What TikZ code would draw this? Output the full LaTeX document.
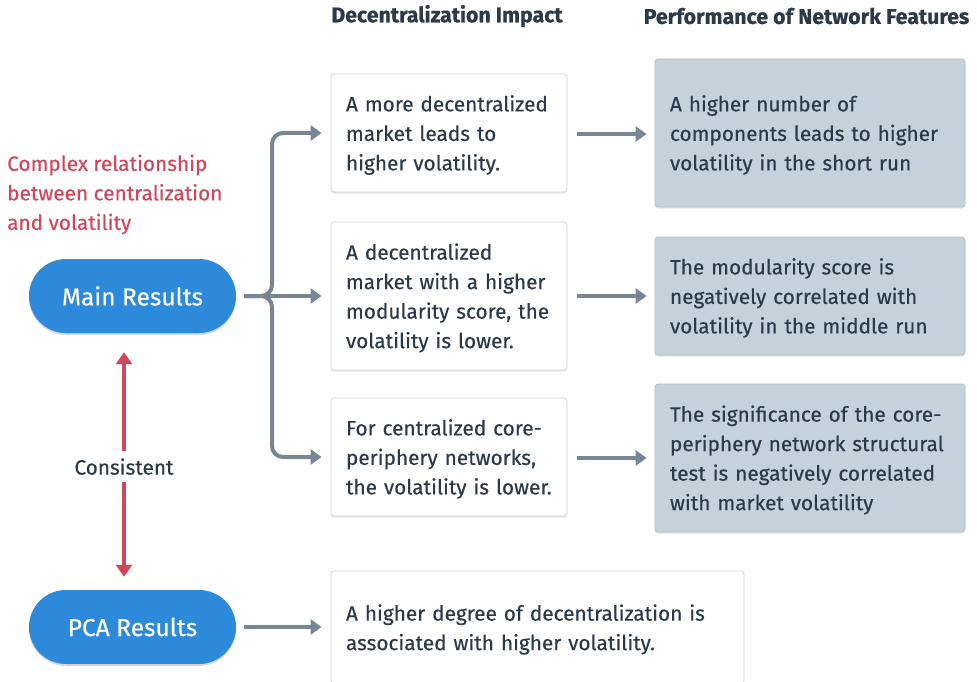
\documentclass[tikz,border=0pt]{standalone}
\usepackage{fontspec}
\setmainfont{Fira Sans}[FakeBold=0.6]
\newfontfamily\medfont{Fira Sans}[FakeBold=0.35]
\usetikzlibrary{arrows.meta,shadows,calc}
\definecolor{pillblue}{HTML}{2D89D9}
\definecolor{relred}{HTML}{D0475C}
\definecolor{conngray}{HTML}{778695}
\definecolor{txtdark}{HTML}{2B3A4A}
\definecolor{boxgray}{HTML}{C5D1DB}
\definecolor{boxgrayline}{HTML}{B3BFCA}
\definecolor{boxline}{HTML}{D3D6DA}
\tikzset{
  bodyfont/.style={font={\medfont\fontsize{20.8}{29.5}\selectfont}},
  boxtext/.style={bodyfont, text=txtdark, align=left, inner sep=0pt},
  whitebox/.style={draw=boxline, line width=0.8pt, fill=white, rounded corners=3pt, inner sep=0pt,
    drop shadow={shadow xshift=0pt, shadow yshift=-1.5pt, opacity=0.10, fill=black}},
  graybox/.style={draw=boxgrayline, line width=0.8pt, fill=boxgray, rounded corners=3pt, inner sep=0pt,
    drop shadow={shadow xshift=0pt, shadow yshift=-1.5pt, opacity=0.10, fill=black}},
  pill/.style={fill=pillblue, rounded corners=37pt, minimum width=207pt, minimum height=74pt,
    text=white, font={\medfont\fontsize{24.5}{28}\selectfont}, inner sep=0pt,
    drop shadow={shadow xshift=0pt, shadow yshift=-2pt, opacity=0.15, fill=black}},
  header/.style={font={\fontsize{21.3}{24}\selectfont\bfseries}, text=txtdark, inner sep=0pt},
  conn/.style={draw=conngray, line width=4pt, -{Triangle[length=11pt,width=15pt]}},
  relarrow/.style={draw=relred, line width=4pt, {Triangle[length=12pt,width=16pt]}-{Triangle[length=12pt,width=16pt]}},
}
\begin{document}
\begin{tikzpicture}[x=1pt,y=-1pt]
\clip (0,0) rectangle (977,682);
\fill[white] (0,0) rectangle (977,682);

% headers
\node[header] (h1) at (447,16) {Decentralization Impact};
\node[header] (h2) at (806.5,16) {Performance of Network Features};

% red note
\node[anchor=west, inner sep=0pt, align=left, text=relred, bodyfont] (note) at (7,194.5)
  {Complex relationship\\between centralization\\and volatility};

% pills
\node[pill] (main) at (132.5,296) {Main Results};
\node[pill] (pca) at (132.5,627) {PCA Results};

% middle column boxes
\node[whitebox, minimum width=236pt, minimum height=118pt] (b1) at (449,133) {};
\node[boxtext, text width=206pt] (t1) at ([yshift=-2pt]b1.center)
  {A more decentralized\\market leads to\\higher volatility.};
\node[whitebox, minimum width=236pt, minimum height=148pt] (b2) at (449,296) {};
\node[boxtext, text width=206pt] (t2) at ([yshift=-2pt]b2.center)
  {A decentralized\\market with a higher\\modularity score, the\\volatility is lower.};
\node[whitebox, minimum width=236pt, minimum height=118pt] (b3) at (449,457) {};
\node[boxtext, text width=206pt] (t3) at ([yshift=-2pt]b3.center)
  {For centralized core-\\periphery networks,\\the volatility is lower.};
\node[whitebox, minimum width=413pt, minimum height=113pt] (b4) at (537.5,627.5) {};
\node[boxtext, text width=383pt] (t4) at ([yshift=-2pt]b4.center)
  {A higher degree of decentralization is\\associated with higher volatility.};

% right column boxes
\node[graybox, minimum width=310pt, minimum height=148pt] (g1) at (810,133) {};
\node[boxtext, text width=280pt] (u1) at ([yshift=-2pt]g1.center)
  {A higher number of\\components leads to higher\\volatility in the short run};
\node[graybox, minimum width=310pt, minimum height=118pt] (g2) at (810,296) {};
\node[boxtext, text width=280pt] (u2) at ([yshift=-2pt]g2.center)
  {The modularity score is\\negatively correlated with\\volatility in the middle run};
\node[graybox, minimum width=310pt, minimum height=148pt] (g3) at (810,458) {};
\node[boxtext, text width=280pt] (u3) at ([yshift=-2pt]g3.center)
  {The significance of the core-\\periphery network structural\\test is negatively correlated\\with market volatility};

% branching connectors
\coordinate (split) at (272,296);
\draw[conn, shorten <=8pt, shorten >=9pt, rounded corners=11pt] (main.east) -| (split |- b1.west) -- (b1.west);
\draw[conn, shorten <=8pt, shorten >=9pt] (main.east) -- (b2.west);
\draw[conn, shorten <=8pt, shorten >=9pt, rounded corners=11pt] (main.east) -| (split |- b3.west) -- (b3.west);

% right arrows
\draw[conn, shorten <=10pt, shorten >=8pt] (b1.east |- 0,134) -- (g1.west |- 0,134);
\draw[conn, shorten <=10pt, shorten >=8pt] (b2.east) -- (g2.west);
\draw[conn, shorten <=10pt, shorten >=8pt] (b3.east |- 0,458) -- (g3.west |- 0,458);

% bottom arrow
\draw[conn, shorten <=8pt, shorten >=9pt] (pca.east) -- (b4.west |- pca.east);

% consistent arrow
\draw[relarrow, shorten <=19pt, shorten >=13pt] ([xshift=-8.5pt]main.south) -- ([xshift=-8.5pt]pca.north)
  node[pos=0.52, fill=white, inner xsep=4pt, inner ysep=7pt, text=txtdark, bodyfont] (cons) {Consistent};
\end{tikzpicture}
\end{document}
